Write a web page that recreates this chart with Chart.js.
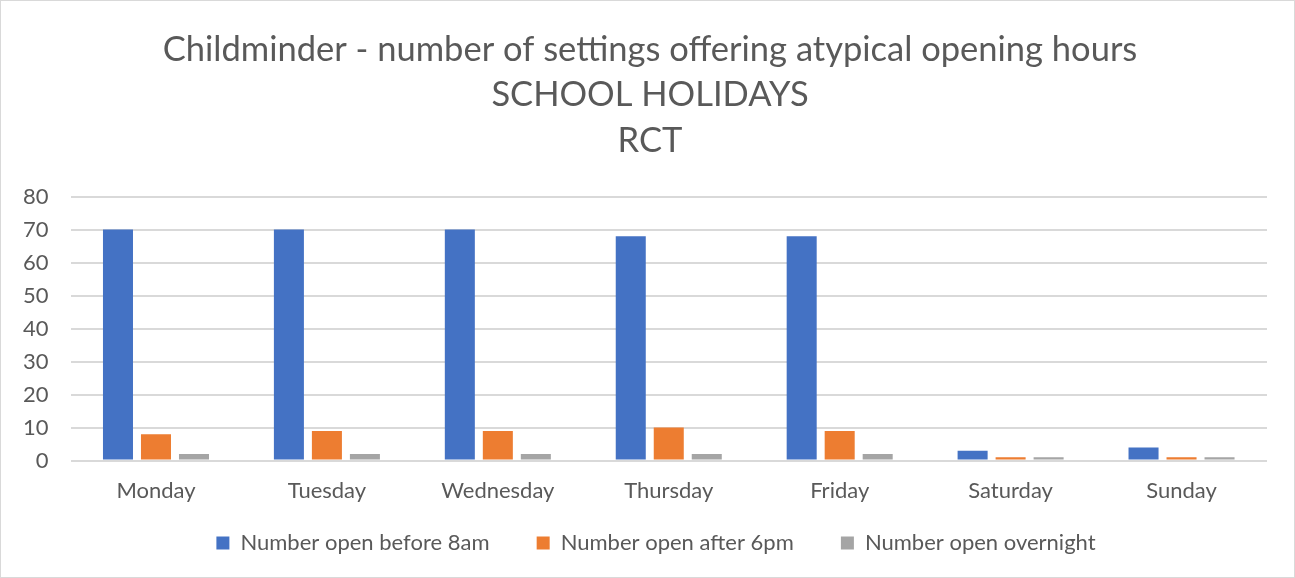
<!DOCTYPE html>
<html>
<head>
<meta charset="utf-8">
<script src="https://cdn.jsdelivr.net/npm/chart.js@4/dist/chart.umd.min.js"></script>
<style>
  body { margin: 0; background: #fff; }
  #wrap { position: relative; width: 1293px; height: 576px; border: 1px solid #d9d9d9; }
</style>
</head>
<body>
<div id="wrap"><canvas id="chart"></canvas></div>
<script>
// chart data
var days = ["Monday", "Tuesday", "Wednesday", "Thursday", "Friday", "Saturday", "Sunday"];
var before8am = [70, 70, 70, 68, 68, 3, 4];
var after6pm = [8, 9, 9, 10, 9, 1, 1];
var overnight = [2, 2, 2, 2, 2, 1, 1];
var seriesNames = ["Number open before 8am", "Number open after 6pm", "Number open overnight"];
var titleLines = ["Childminder - number of settings offering atypical opening hours", "SCHOOL HOLIDAYS", "RCT"];

var font = "Lato, 'Open Sans', sans-serif";
var grey = "#595959";

// title and legend sit a bit right of the canvas centre in the original
var nudge = {
  id: "nudge",
  afterLayout: function (chart) {
    chart.titleBlock.left += 16;
    chart.titleBlock.right += 16;
    chart.legend.left += 22;
    chart.legend.right += 22;
  },
};

new Chart(document.getElementById("chart"), {
  type: "bar",
  data: {
    labels: days,
    datasets: [
      { label: seriesNames[0], data: before8am, backgroundColor: "#4472c4" },
      { label: seriesNames[1], data: after6pm, backgroundColor: "#ed7d31" },
      { label: seriesNames[2], data: overnight, backgroundColor: "#a5a5a5" },
    ],
  },
  plugins: [nudge],
  options: {
    responsive: true,
    maintainAspectRatio: false,
    animation: false,
    datasets: { bar: { categoryPercentage: 0.667, barPercentage: 0.79 } },
    layout: { padding: { left: 0, right: 27, top: 26, bottom: 13 } },
    plugins: {
      title: {
        display: true,
        text: titleLines,
        color: grey,
        font: { family: font, size: 34.5, weight: "normal", lineHeight: 1.32 },
        padding: { top: 0, bottom: 33 },
      },
      legend: {
        position: "bottom",
        labels: {
          color: grey,
          font: { family: font, size: 22 },
          boxWidth: 13,
          boxHeight: 13,
          padding: 19,
          // widen the gap between items without growing the legend height
          generateLabels: function (chart) {
            var items = Chart.defaults.plugins.legend.labels.generateLabels(chart);
            items.forEach(function (it, i) {
              if (i < items.length - 1) it.text += "     ";
            });
            return items;
          },
        },
      },
      tooltip: { enabled: false },
    },
    scales: {
      x: {
        grid: { display: false },
        border: { display: false },
        ticks: { color: grey, font: { family: font, size: 22 }, padding: 9 },
      },
      y: {
        min: 0,
        max: 80,
        ticks: { stepSize: 10, color: grey, font: { family: font, size: 22 }, padding: 22 },
        grid: { color: "#d9d9d9", lineWidth: 2, drawTicks: false },
        border: { display: false },
      },
    },
  },
});
</script>
</body>
</html>
